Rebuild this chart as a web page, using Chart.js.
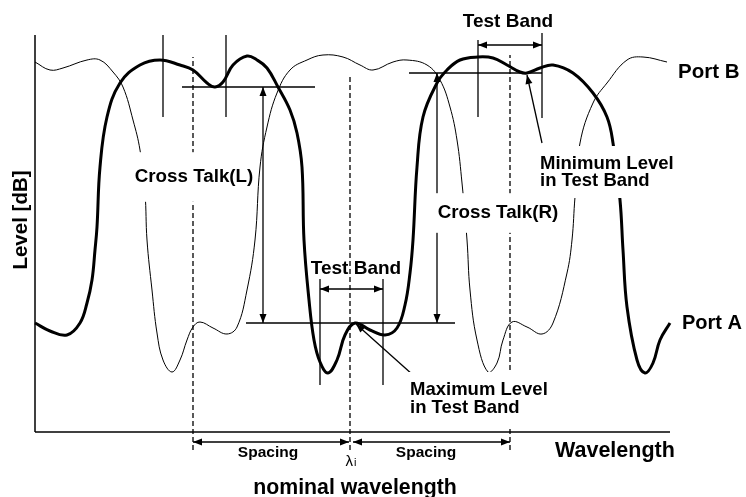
<!DOCTYPE html>
<html>
<head>
<meta charset="utf-8">
<script src="https://cdn.jsdelivr.net/npm/chart.js@4"></script>
<style>
  html, body { margin: 0; padding: 0; background: #fff; }
  canvas { display: block; }
</style>
</head>
<body>
<canvas id="wdmChart" width="746" height="497"></canvas>
<script>
// Port A (thick trace): wavelength vs level
const portAWavelength = [35, 50, 67, 80, 87, 92, 95, 97, 100, 107, 120, 140, 160, 180, 193, 207, 215, 223, 233, 247,
  257, 267, 278, 290, 297, 302, 304, 309, 314, 320, 328, 337, 345, 355, 370, 385, 397, 405, 410, 413,
  417, 423, 437, 447, 460, 478, 493, 507, 520, 527, 540, 553, 573, 593, 607, 613, 620, 623, 627, 637,
  645, 653, 660, 670];
const portALevel = [109, 101, 97, 109, 129, 152, 182, 205, 265, 315, 349, 367, 372, 367, 362, 349, 345, 350, 367, 376,
  372, 364, 345, 322, 299, 265, 192, 132, 92, 70, 59, 72, 97, 109, 102, 97, 104, 127, 159, 192,
  265, 315, 349, 362, 372, 375, 374, 367, 360, 359, 364, 367, 359, 339, 315, 289, 232, 182, 125, 72,
  59, 69, 92, 109];

// Port B (thin trace)
const portBWavelength = [35, 50, 63, 87, 100, 113, 123, 133, 140, 145, 147, 152, 157, 163, 172, 180, 187, 193, 200, 213,
  227, 237, 247, 255, 260, 267, 277, 290, 307, 323, 343, 360, 373, 393, 407, 427, 440, 450, 457, 462,
  467, 470, 477, 488, 497, 503, 512, 527, 542, 553, 567, 572, 575, 580, 593, 607, 627, 643, 667];
const portBLevel = [370, 362, 364, 372, 372, 360, 345, 312, 282, 239, 192, 142, 99, 72, 60, 72, 92, 105, 110, 104,
  98, 105, 142, 192, 265, 305, 339, 362, 372, 377, 375, 367, 362, 370, 372, 367, 352, 325, 292, 249,
  192, 142, 92, 60, 69, 92, 110, 105, 98, 109, 159, 192, 235, 289, 329, 349, 372, 375, 370];

// channel grid: left neighbour, nominal wavelength, right neighbour
const channelGrid = [193, 350, 510];
// test band edges around each channel
const testBandLeft = [163, 226];
const testBandMid = [320, 383];
const testBandRight = [478, 542];
// reference levels
const maxLevelInBand = 109;   // Port A peak inside the middle test band
const minLevelLeft = 345;
const minLevelRight = 359;

// line pieces of the sketch: axes, band markers, arrows
const segments = [
  { pts: [[35, 0], [35, 397]], w: 1.5 },
  { pts: [[35, 0], [670, 0]], w: 1.5 },

  { pts: [[testBandLeft[0], 315], [testBandLeft[0], 397]] },
  { pts: [[testBandLeft[1], 315], [testBandLeft[1], 397]] },
  { pts: [[testBandMid[0], 47], [testBandMid[0], 153]] },
  { pts: [[testBandMid[1], 47], [testBandMid[1], 153]] },
  { pts: [[testBandRight[0], 315], [testBandRight[0], 392]] },
  { pts: [[testBandRight[1], 314], [testBandRight[1], 399]] },

  { pts: [[182, minLevelLeft], [315, minLevelLeft]] },
  { pts: [[246, maxLevelInBand], [455, maxLevelInBand]] },
  { pts: [[409, minLevelRight], [testBandRight[1], minLevelRight]] },

  { pts: [[263, maxLevelInBand], [263, minLevelLeft]], arrows: 'both' },
  { pts: [[437, maxLevelInBand], [437, minLevelRight]], arrows: 'both' },
  { pts: [[testBandMid[0], 143], [testBandMid[1], 143]], arrows: 'both' },
  { pts: [[testBandRight[0], 387], [testBandRight[1], 387]], arrows: 'both' },

  { pts: [[channelGrid[0], -18], [channelGrid[0], 375]], dash: true },
  { pts: [[channelGrid[1], -18], [channelGrid[1], 355]], dash: true },
  { pts: [[channelGrid[2], -18], [channelGrid[2], 377]], dash: true },

  { pts: [[channelGrid[0], -10], [channelGrid[1] - 1, -10]], arrows: 'both' },
  { pts: [[channelGrid[1] + 3, -10], [channelGrid[2], -10]], arrows: 'both' },

  { pts: [[542, 289], [527, 357]], arrows: 'end' },
  { pts: [[413, 57], [356, 108]], arrows: 'end' }
];

// text placed in data coordinates
const labels = [
  { text: ['Test Band'], x: 508, y: 410, size: 19 },
  { text: ['Port B'], x: 678, y: 360, size: 20.5, align: 'left' },
  { text: ['Port A'], x: 682, y: 109, size: 20, align: 'left' },
  { text: ['Cross Talk(L)'], x: 194, y: 255, size: 18.8, bg: [2, 20] },
  { text: ['Cross Talk(R)'], x: 498, y: 219, size: 18.8, bg: [2, 15] },
  { text: ['Minimum Level', 'in Test Band'], x: 540, y: 260, size: 18.5, lh: 17, align: 'left', bg: [2, 15] },
  { text: ['Test Band'], x: 356, y: 163, size: 19 },
  { text: ['Maximum Level', 'in Test Band'], x: 410, y: 33, size: 18.5, lh: 18, align: 'left', bg: [2, 15] },
  { text: ['Spacing'], x: 268, y: -21, size: 15.5 },
  { text: ['Spacing'], x: 426, y: -21, size: 15.5 },
  { text: ['Wavelength'], x: 555, y: -19, size: 21.5, align: 'left' },
  { text: ['nominal wavelength'], x: 355, y: -56, size: 21.3 },
  { text: ['Level [dB]'], x: 21, y: 212, size: 20.5, rotate: true }
];

const FONT = '"Liberation Sans", Arial, sans-serif';

const datasets = [
  {
    label: 'Port A',
    data: portAWavelength.map((w, i) => ({ x: w, y: portALevel[i] })),
    borderColor: '#000', borderWidth: 3, tension: 0.4
  },
  {
    label: 'Port B',
    data: portBWavelength.map((w, i) => ({ x: w, y: portBLevel[i] })),
    borderColor: '#000', borderWidth: 1, tension: 0.4
  }
];
segments.forEach(s => {
  datasets.push({
    data: s.pts.map(p => ({ x: p[0], y: p[1] })),
    borderColor: '#000',
    borderWidth: s.w || 1.3,
    borderDash: s.dash ? [5, 3] : [],
    tension: 0,
    arrows: s.arrows || 'none'
  });
});

function arrowHead(ctx, tip, from) {
  const a = Math.atan2(tip.y - from.y, tip.x - from.x);
  const len = 9, half = 3.5;
  ctx.beginPath();
  ctx.moveTo(tip.x, tip.y);
  ctx.lineTo(tip.x - len * Math.cos(a) + half * Math.sin(a), tip.y - len * Math.sin(a) - half * Math.cos(a));
  ctx.lineTo(tip.x - len * Math.cos(a) - half * Math.sin(a), tip.y - len * Math.sin(a) + half * Math.cos(a));
  ctx.closePath();
  ctx.fill();
}

const arrowPlugin = {
  id: 'arrowHeads',
  afterDatasetsDraw(chart) {
    const ctx = chart.ctx;
    ctx.save();
    ctx.fillStyle = '#000';
    chart.data.datasets.forEach((ds, i) => {
      if (!ds.arrows || ds.arrows === 'none') return;
      const pts = chart.getDatasetMeta(i).data;
      const p0 = pts[0], p1 = pts[pts.length - 1];
      arrowHead(ctx, p1, p0);
      if (ds.arrows === 'both') arrowHead(ctx, p0, p1);
    });
    ctx.restore();
  }
};

const labelPlugin = {
  id: 'diagramLabels',
  afterDraw(chart) {
    const { ctx, scales } = chart;
    ctx.save();
    labels.forEach(l => {
      const px = scales.x.getPixelForValue(l.x);
      const py = scales.y.getPixelForValue(l.y);
      ctx.font = 'bold ' + l.size + 'px ' + FONT;
      const lineH = l.lh || l.size * 1.15;
      const align = l.align || 'center';
      const top = py - (l.text.length - 1) * lineH / 2;
      if (l.rotate) {
        ctx.translate(px, py);
        ctx.rotate(-Math.PI / 2);
        ctx.fillStyle = '#000';
        ctx.textAlign = 'center';
        ctx.textBaseline = 'middle';
        ctx.fillText(l.text[0], 0, 0);
        ctx.setTransform(1, 0, 0, 1, 0, 0);
        return;
      }
      if (l.bg) {
        const w = Math.max(...l.text.map(t => ctx.measureText(t).width));
        const x0 = align === 'left' ? px : px - w / 2;
        const hTop = top - lineH / 2 - l.bg[1] + 6;
        const hBot = top + (l.text.length - 1) * lineH + lineH / 2 + l.bg[1] - 6;
        ctx.fillStyle = '#fff';
        ctx.fillRect(x0 - l.bg[0], hTop, w + 2 * l.bg[0], hBot - hTop);
      }
      ctx.fillStyle = '#000';
      ctx.textAlign = align;
      ctx.textBaseline = 'middle';
      l.text.forEach((t, k) => ctx.fillText(t, px, top + k * lineH));
    });

    // lambda_i under the nominal wavelength line
    const lx = scales.x.getPixelForValue(channelGrid[1]);
    const ly = scales.y.getPixelForValue(-30);
    ctx.fillStyle = '#000';
    ctx.textBaseline = 'middle';
    ctx.textAlign = 'right';
    ctx.font = '15px ' + FONT;
    ctx.fillText('\u03bb', lx + 3, ly);
    ctx.textAlign = 'left';
    ctx.font = '11px ' + FONT;
    ctx.fillText('i', lx + 4, ly + 1);
    ctx.restore();
  }
};

new Chart(document.getElementById('wdmChart').getContext('2d'), {
  type: 'scatter',
  data: { datasets: datasets },
  options: {
    responsive: false,
    animation: false,
    showLine: true,
    elements: { point: { radius: 0, hoverRadius: 0 } },
    datasets: { scatter: { clip: false } },
    layout: { padding: 0 },
    scales: {
      x: { type: 'linear', min: 0, max: 746, display: false },
      y: { type: 'linear', min: -65, max: 432, display: false }
    },
    plugins: {
      legend: { display: false },
      tooltip: { enabled: false }
    }
  },
  plugins: [arrowPlugin, labelPlugin]
});
</script>
</body>
</html>
